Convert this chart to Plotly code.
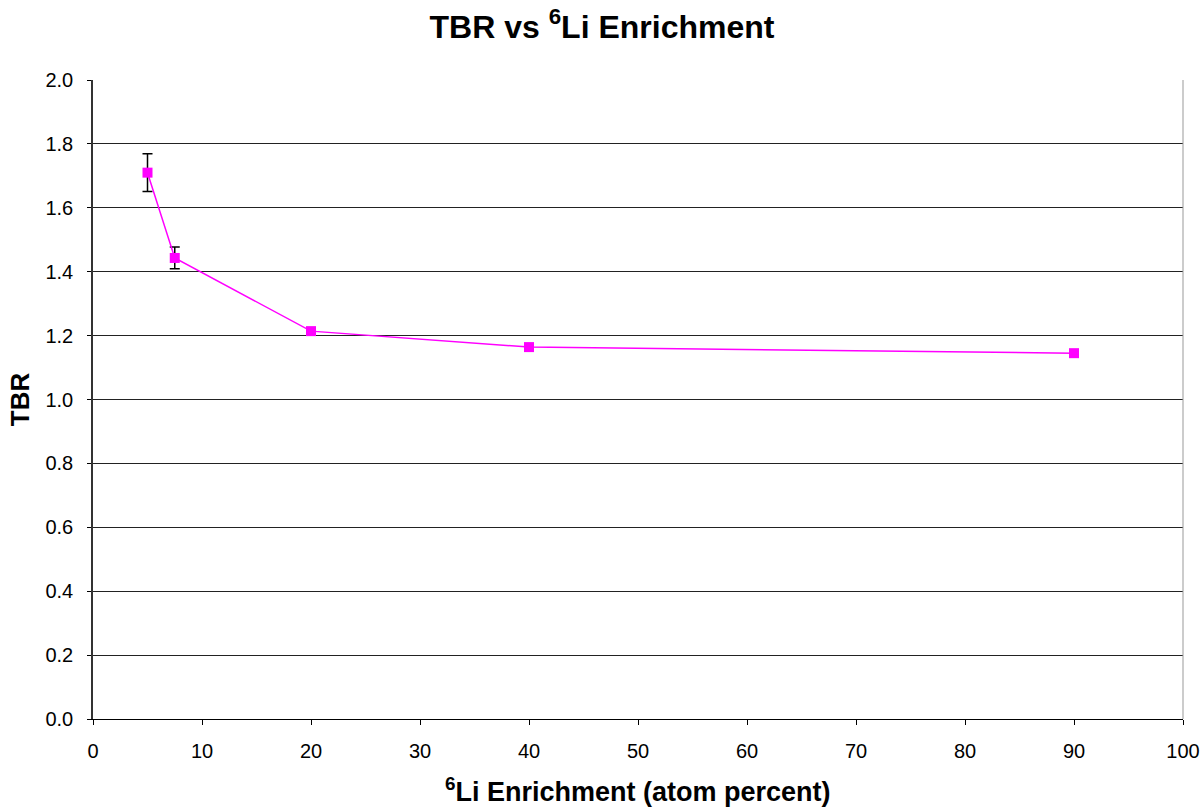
import plotly.graph_objects as go

# Data
enrichment = [5, 7.5, 20, 40, 90]
tbr = [1.71, 1.443, 1.214, 1.164, 1.145]
tbr_err = [0.059, 0.034, 0.0, 0.0, 0.0]

y_ticks = [0.0, 0.2, 0.4, 0.6, 0.8, 1.0, 1.2, 1.4, 1.6, 1.8, 2.0]
x_ticks = [0, 10, 20, 30, 40, 50, 60, 70, 80, 90, 100]

fig = go.Figure()

fig.add_trace(go.Scatter(
    x=enrichment,
    y=tbr,
    mode="lines+markers",
    line=dict(color="#FF00FF", width=1.5),
    marker=dict(symbol="square", size=10, color="#FF00FF"),
    error_y=dict(type="data", array=tbr_err, visible=True,
                 color="black", thickness=1.5, width=5),
    showlegend=False,
))

font_family = "Liberation Sans, Arial, sans-serif"

fig.update_layout(
    width=1204,
    height=809,
    paper_bgcolor="white",
    plot_bgcolor="white",
    margin=dict(l=93, r=21, t=80, b=90, autoexpand=False),
    font=dict(family=font_family, size=20, color="black"),
    title=dict(
        text="<b>TBR vs <sup>6</sup>Li Enrichment</b>",
        x=0.5, xanchor="center",
        y=0.967, yanchor="middle",
        font=dict(size=32),
    ),
    xaxis=dict(
        range=[0, 100],
        tickvals=x_ticks,
        ticktext=[str(v) for v in x_ticks],
        showgrid=False,
        zeroline=False,
        showline=True, linecolor="black", linewidth=1,
        ticks="outside", ticklen=5, tickcolor="black",
        ticklabelstandoff=9,
        ticklabeloverflow="allow",
        automargin=False,
    ),
    yaxis=dict(
        title=dict(text="<b>TBR</b>", font=dict(size=26), standoff=8),
        range=[0, 2.0],
        tickvals=y_ticks,
        ticktext=[f"{v:.1f}" for v in y_ticks],
        showgrid=True, gridcolor="#222222", gridwidth=1,
        zeroline=False,
        showline=True, linecolor="#333333", linewidth=1.5,
        ticks="outside", ticklen=4, tickcolor="black",
        ticklabelstandoff=10,
    ),
)

# x-axis title placed as an annotation to sit where the original has it
fig.add_annotation(
    text="<b><sup>6</sup>Li Enrichment (atom percent)</b>",
    xref="paper", yref="paper",
    x=0.5, y=-0.111, xanchor="center", yanchor="middle",
    showarrow=False, font=dict(size=27),
)

# thin gray border on the right side of the plot area, as in the original
fig.add_shape(type="line", xref="paper", yref="paper",
              x0=1, x1=1, y0=0, y1=1,
              line=dict(color="#999999", width=1))

fig.write_html("out.html", config={"displayModeBar": False},
               post_script="document.body.style.margin='0px';")
